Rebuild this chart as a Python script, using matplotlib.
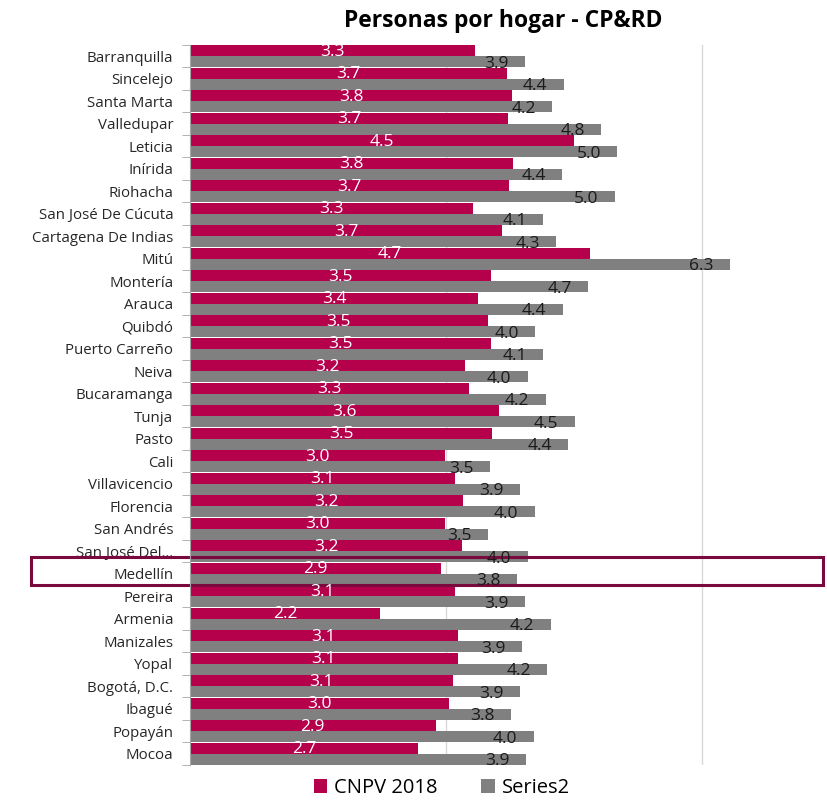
import matplotlib.pyplot as plt
from matplotlib.patches import Rectangle
from matplotlib import transforms

plt.rcParams['font.family'] = ['Open Sans', 'DejaVu Sans']

# ---- data ----
ciudades = ["Barranquilla", "Sincelejo", "Santa Marta", "Valledupar", "Leticia", "Inírida",
            "Riohacha", "San José De Cúcuta", "Cartagena De Indias", "Mitú", "Montería",
            "Arauca", "Quibdó", "Puerto Carreño", "Neiva", "Bucaramanga", "Tunja", "Pasto",
            "Cali", "Villavicencio", "Florencia", "San Andrés", "San José Del…", "Medellín",
            "Pereira", "Armenia", "Manizales", "Yopal", "Bogotá, D.C.", "Ibagué", "Popayán",
            "Mocoa"]
cnpv_2018 = [3.34, 3.72, 3.78, 3.73, 4.50, 3.79, 3.74, 3.32, 3.66, 4.69, 3.53, 3.38, 3.49,
             3.53, 3.22, 3.27, 3.62, 3.54, 2.99, 3.11, 3.20, 2.99, 3.19, 2.94, 3.11, 2.23,
             3.14, 3.14, 3.08, 3.04, 2.88, 2.67]
series2 = [3.93, 4.38, 4.25, 4.82, 5.01, 4.36, 4.98, 4.14, 4.29, 6.33, 4.67, 4.37, 4.05,
           4.14, 3.96, 4.17, 4.51, 4.43, 3.52, 3.87, 4.04, 3.49, 3.96, 3.83, 3.93, 4.23,
           3.89, 4.19, 3.87, 3.76, 4.03, 3.94]
destacado = "Medellín"

rojo = "#B5004B"
gris = "#808080"

fig = plt.figure(figsize=(8.27, 8.0), dpi=100)
ax = fig.add_axes([0.2297, 0.0438, 0.722, 0.9])

n = len(ciudades)
ys = list(range(n))
alto = 0.49
ax.barh([y - 0.25 for y in ys], cnpv_2018, height=alto, color=rojo, label="CNPV 2018")
ax.barh([y + 0.25 for y in ys], series2, height=alto, color=gris, label="Series2")

for y, a, b in zip(ys, cnpv_2018, series2):
    ax.text(a / 2, y - 0.2, f"{a:.1f}", ha='center', va='center', color='white', fontsize=12.5)
    ax.text(b - 0.19, y + 0.34, f"{b:.1f}", ha='right', va='center', color='#1a1a1a', fontsize=12.5)

ax.set_xlim(0, 7)
ax.set_ylim(n - 0.5, -0.5)
ax.set_xticks([3, 6])
ax.tick_params(axis='x', length=0, labelbottom=False)
ax.grid(axis='x', color='#D9D9D9', linewidth=1)
ax.set_axisbelow(True)

# categorias en el centro, ticks en los limites
ax.set_yticks(ys)
ax.set_yticklabels(ciudades, fontsize=10.8, color='#262626')
ax.tick_params(axis='y', which='major', length=0, pad=12)
ax.set_yticks([y - 0.5 for y in range(n + 1)], minor=True)
ax.tick_params(axis='y', which='minor', length=6, color='#A6A6A6')

for s in ['top', 'right', 'bottom']:
    ax.spines[s].set_visible(False)
ax.spines['left'].set_color('#A6A6A6')

fig.text(0.608, 0.974, "Personas por hogar - CP&RD", ha='center', va='center',
         fontsize=16.5, fontweight='bold')

# recuadro Medellín
i = ciudades.index(destacado)
tr = transforms.blended_transform_factory(fig.transFigure, ax.transData)
ax.add_patch(Rectangle((0.037, i + 0.49), 0.958, -1.24, transform=tr, fill=False,
                       edgecolor='#7A0A3E', linewidth=2.2, clip_on=False))

fig.legend(loc='center', bbox_to_anchor=(0.534, 0.015), ncol=2, frameon=False,
           fontsize=14.5, handlelength=0.65, handleheight=0.65, handletextpad=0.35,
           columnspacing=2.2)

fig.savefig("out.png", dpi=100)
